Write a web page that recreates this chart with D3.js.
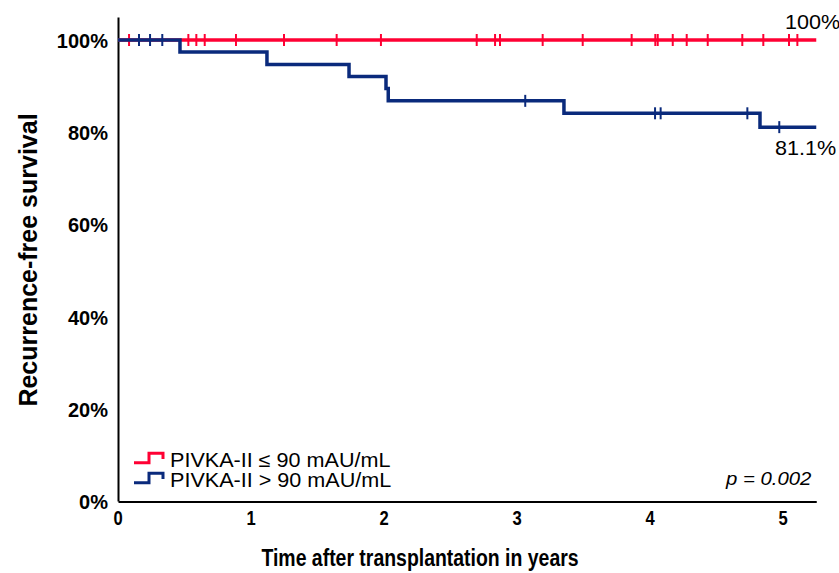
<!DOCTYPE html>
<html>
<head>
<meta charset="utf-8">
<script src="https://cdn.jsdelivr.net/npm/d3@7"></script>
<style>
  body { margin: 0; background: #fff; }
  text { font-family: "Liberation Sans", Arial, sans-serif; fill: #000; }
</style>
</head>
<body>
<div id="km-chart"></div>
<script>
// chart data
var yearTicks = [0, 1, 2, 3, 4, 5];
var percentTicks = [0, 20, 40, 60, 80, 100];
var followUpEnd = 5.25;

// PIVKA-II <= 90: no events, censored only
var lowSurvival = [100];
var lowEventTimes = [0];
var lowCensorTimes = [0.083, 0.529, 0.589, 0.652, 0.887, 1.248, 1.644, 1.977, 2.697, 2.835, 2.872,
    3.193, 3.494, 3.862, 4.040, 4.058, 4.171, 4.276, 4.434, 4.694, 4.852, 5.045, 5.108];

// PIVKA-II > 90
var highEventTimes = [0, 0.466, 1.12, 1.737, 2.015, 2.032, 3.353, 4.827];
var highSurvival = [100, 97.4, 94.7, 92.1, 89.5, 86.8, 84.1, 81.1];
var highCensorTimes = [0.158, 0.241, 0.333, 3.062, 4.038, 4.080, 4.732, 4.972];

var groups = ["PIVKA-II \u2264 90 mAU/mL", "PIVKA-II > 90 mAU/mL"];
var endLabels = ["100%", "81.1%"];
var pText = "p = 0.002";

var red = "#ff0033",
    blue = "#0a2a7c";

var svg = d3.select("#km-chart").append("svg")
    .attr("width", 839)
    .attr("height", 573);

var x = d3.scaleLinear().domain([0, followUpEnd]).range([118, 816.25]);
var y = d3.scaleLinear().domain([0, 105]).range([501, 16.95]);

// stretched text helper (reference fonts are wider/narrower than Arial)
function label(txt, px, py, size, weight, sx, anchor, style) {
    return svg.append("text")
        .attr("transform", "translate(" + px + "," + py + ") scale(" + sx + ",1)")
        .attr("text-anchor", anchor)
        .style("font-size", size + "px")
        .style("font-weight", weight)
        .style("font-style", style || "normal")
        .text(txt);
}

// axes: spine only, no tick marks
var xAxis = svg.append("g")
    .attr("transform", "translate(0," + 501.5 + ")")
    .call(d3.axisBottom(x).tickValues(yearTicks).tickSize(0).tickPadding(0).tickFormat(""));
xAxis.select(".domain").attr("stroke", "#000").attr("stroke-width", 2);

var yAxis = svg.append("g")
    .attr("transform", "translate(" + 118 + ",0)")
    .call(d3.axisLeft(y).tickValues(percentTicks).tickSize(0).tickFormat(""));
yAxis.select(".domain").attr("stroke", "#000").attr("stroke-width", 2);

yearTicks.forEach(function(d) {
    label(d, x(d), 525, 20, "bold", 0.83, "middle");
});
percentTicks.forEach(function(d) {
    label(d + "%", 108, y(d) + 8, 20, "bold", 1, "end");
});

label("Time after transplantation in years", 420, 566, 24, "bold", 0.81, "middle");
svg.append("text")
    .attr("transform", "translate(37,260) rotate(-90)")
    .attr("text-anchor", "middle")
    .style("font-size", "25px")
    .style("font-weight", "bold")
    .text("Recurrence-free survival");

// survival curves
var line = d3.line()
    .x(function(d) { return x(d[0]); })
    .y(function(d) { return y(d[1]); })
    .curve(d3.curveStepAfter);

function curvePoints(times, surv) {
    var pts = times.map(function(t, i) { return [t, surv[i]]; });
    pts.push([followUpEnd, surv[surv.length - 1]]);
    return pts;
}

function survAt(times, surv, t) {
    var s = surv[0];
    times.forEach(function(et, i) { if (et <= t) s = surv[i]; });
    return s;
}

var series = [
    {name: groups[0], color: red, times: lowEventTimes, surv: lowSurvival, censor: lowCensorTimes},
    {name: groups[1], color: blue, times: highEventTimes, surv: highSurvival, censor: highCensorTimes}
];

var curves = svg.selectAll(".curve")
    .data(series)
    .enter().append("g")
    .attr("class", "curve");

curves.append("path")
    .attr("fill", "none")
    .attr("stroke", function(d) { return d.color; })
    .attr("stroke-width", 3.5)
    .attr("d", function(d) { return line(curvePoints(d.times, d.surv)); });

curves.each(function(d) {
    d3.select(this).selectAll(".censor")
        .data(d.censor)
        .enter().append("line")
        .attr("class", "censor")
        .attr("stroke", d.color)
        .attr("stroke-width", 2)
        .attr("x1", function(t) { return x(t); })
        .attr("x2", function(t) { return x(t); })
        .attr("y1", function(t) { return y(survAt(d.times, d.surv, t)) - 6; })
        .attr("y2", function(t) { return y(survAt(d.times, d.surv, t)) + 6; });
});

// end-of-curve labels
label(endLabels[0], 785, 29, 20, "normal", 1.08, "start");
label(endLabels[1], 775, 155, 20, "normal", 1.08, "start");

// legend
var legend = svg.selectAll(".legend")
    .data(series)
    .enter().append("g")
    .attr("class", "legend")
    .attr("transform", function(d, i) { return "translate(0," + (i * 20) + ")"; });

legend.append("path")
    .attr("fill", "none")
    .attr("stroke", function(d) { return d.color; })
    .attr("stroke-width", 3)
    .attr("d", "M134,462.7H149V453.3H163V459");

legend.append("text")
    .attr("transform", "translate(170,466.5) scale(1.08,1)")
    .style("font-size", "20px")
    .text(function(d) { return d.name; });

label(pText, 726, 484.5, 18.5, "normal", 1.1, "start", "italic");
</script>
</body>
</html>
